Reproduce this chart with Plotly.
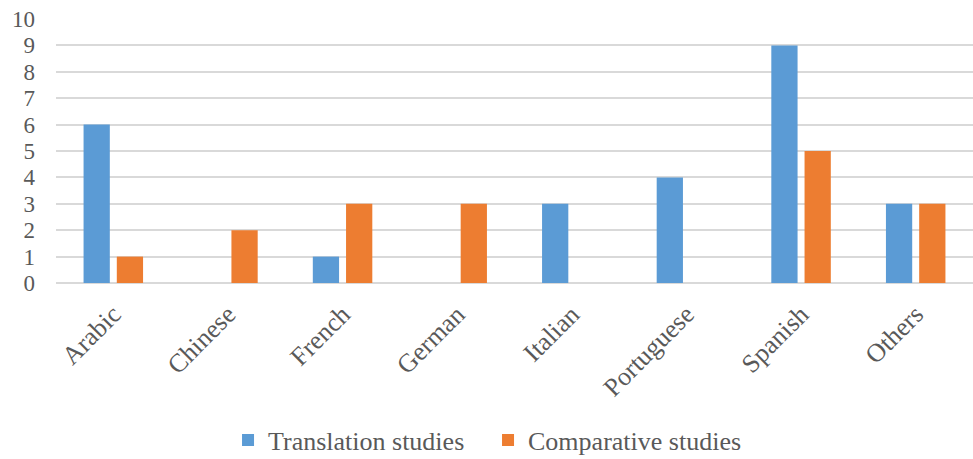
import plotly.graph_objects as go

languages = ["Arabic", "Chinese", "French", "German", "Italian", "Portuguese", "Spanish", "Others"]
translation_studies = [6, 0, 1, 0, 3, 4, 9, 3]
comparative_studies = [1, 2, 3, 3, 0, 0, 5, 3]
y_ticks = list(range(0, 11))

font_family = "Liberation Serif"
text_color = "#595959"

fig = go.Figure()
fig.add_trace(go.Bar(
    x=languages, y=translation_studies, name="Translation studies",
    marker=dict(color="#5B9BD5", line=dict(width=0)),
))
fig.add_trace(go.Bar(
    x=languages, y=comparative_studies, name="Comparative studies",
    marker=dict(color="#ED7D31", line=dict(width=0)),
))

fig.update_layout(
    width=973, height=459,
    margin=dict(l=56, r=0, t=19, b=176, autoexpand=False),
    paper_bgcolor="white", plot_bgcolor="white",
    barmode="group", bargap=0.42, bargroupgap=0.21,
    font=dict(family=font_family, size=26, color=text_color),
    showlegend=True,
    legend=dict(
        orientation="h", x=0.1876, xanchor="left", y=-0.595, yanchor="middle",
        font=dict(family=font_family, size=26, color=text_color),
        itemwidth=30, entrywidth=215, traceorder="normal",
    ),
)
fig.update_xaxes(
    tickangle=-45, showgrid=False, showline=False, ticks="", automargin=False,
    ticklabelstandoff=10,
    tickfont=dict(family=font_family, size=26, color=text_color),
)
fig.update_yaxes(
    range=[0, 10], tickvals=y_ticks, showgrid=True, gridcolor="#D9D9D9", gridwidth=1.5,
    zeroline=True, zerolinecolor="#D9D9D9", zerolinewidth=1.5,
    ticks="", ticklabelstandoff=20, automargin=False,
    tickfont=dict(family=font_family, size=23, color=text_color),
)

fig.write_html("out.html")
